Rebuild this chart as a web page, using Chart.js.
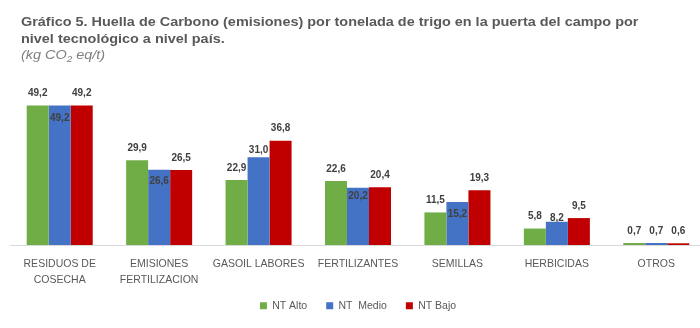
<!DOCTYPE html>
<html>
<head>
<meta charset="utf-8">
<script src="https://cdn.jsdelivr.net/npm/chart.js@4.4.1/dist/chart.umd.min.js"></script>
<style>
  html, body { margin: 0; padding: 0; background: #fff; width: 700px; height: 328px; overflow: hidden; }
  #wrap { position: relative; width: 700px; height: 328px; overflow: hidden; }
  #title { position: absolute; left: 21px; top: 14px; font-family: "Liberation Sans", Arial, sans-serif;
           font-size: 13px; line-height: 16.5px; color: #595959; font-weight: bold; white-space: nowrap; z-index: 2;
           transform: scaleX(1.11); transform-origin: 0 0; }
  #title .sub { font-weight: normal; font-style: italic; color: #7f7f7f; }
  #title sub { font-size: 9px; line-height: 0; vertical-align: -3px; }
  canvas { position: absolute; left: 0; top: 0; }
</style>
</head>
<body>
<div id="wrap">
  <div id="title">Gráfico 5. Huella de Carbono (emisiones) por tonelada de trigo en la puerta del campo por<br>nivel tecnológico a nivel país.<br><span class="sub">(kg CO<sub>2</sub> eq/t)</span></div>
  <canvas id="c" width="706" height="328"></canvas>
</div>
<script>
const categories = [["RESIDUOS DE", "COSECHA"], ["EMISIONES", "FERTILIZACION"], "GASOIL LABORES", "FERTILIZANTES", "SEMILLAS", "HERBICIDAS", "OTROS"];
const seriesNames = ["NT Alto", "NT  Medio", "NT Bajo"];
const ntAlto  = [49.2, 29.9, 22.9, 22.6, 11.5, 5.8, 0.7];
const ntMedio = [49.2, 26.6, 31.0, 20.2, 15.2, 8.2, 0.7];
const ntBajo  = [49.2, 26.5, 36.8, 20.4, 19.3, 9.5, 0.6];

// label placement (px from bar top to label centre)
const defaultLabelShift = -12;
const medioLabelShift = [13, 12, -7, 8, 12, -4, -12];

const labelPlugin = {
  id: 'valueLabels',
  afterLayout(chart) {
    // let the two-line category labels draw below the (compacted) axis box
    const xs = chart.scales.x;
    xs.bottom = xs.top + 50;
  },
  afterDatasetsDraw(chart) {
    const ctx = chart.ctx;
    ctx.save();
    ctx.font = 'bold 10px "Liberation Sans", Arial, sans-serif';
    ctx.fillStyle = '#404040';
    ctx.textAlign = 'center';
    ctx.textBaseline = 'middle';
    chart.data.datasets.forEach((ds, di) => {
      const meta = chart.getDatasetMeta(di);
      meta.data.forEach((bar, i) => {
        const shift = ds.labelShift ? ds.labelShift[i] : defaultLabelShift;
        const txt = ds.data[i].toFixed(1).replace('.', ',');
        ctx.fillText(txt, bar.x, bar.y + shift);
      });
    });
    ctx.restore();
  }
};

new Chart(document.getElementById('c'), {
  type: 'bar',
  data: {
    labels: categories,
    datasets: [
      { label: seriesNames[0], data: ntAlto,  backgroundColor: '#70AD47' },
      { label: seriesNames[1], data: ntMedio, backgroundColor: '#4472C4', labelShift: medioLabelShift },
      { label: seriesNames[2], data: ntBajo,  backgroundColor: '#C00000' }
    ]
  },
  options: {
    responsive: false,
    devicePixelRatio: 1,
    animation: false,
    layout: { padding: { left: 10, right: 0, top: 75, bottom: 7 } },
    datasets: { bar: { categoryPercentage: 0.664, barPercentage: 1.0, borderWidth: 0 } },
    plugins: {
      legend: {
        position: 'bottom',
        labels: {
          boxWidth: 7, boxHeight: 7, padding: 19, color: '#595959',
          font: { family: '"Liberation Sans", Arial, sans-serif', size: 10.5 }
        }
      },
      tooltip: { enabled: false },
      title: { display: false }
    },
    scales: {
      x: {
        grid: { display: false, drawTicks: false },
        border: { display: true, color: '#d9d9d9', width: 1 },
        ticks: {
          color: '#595959', padding: 11, maxRotation: 0, autoSkip: false,
          font: { family: '"Liberation Sans", Arial, sans-serif', size: 10.5, lineHeight: 1.52 }
        },
        afterFit(scale) { scale.height = 36.5; }
      },
      y: { display: false, min: 0, max: 60 }
    }
  },
  plugins: [labelPlugin]
});
</script>
</body>
</html>
